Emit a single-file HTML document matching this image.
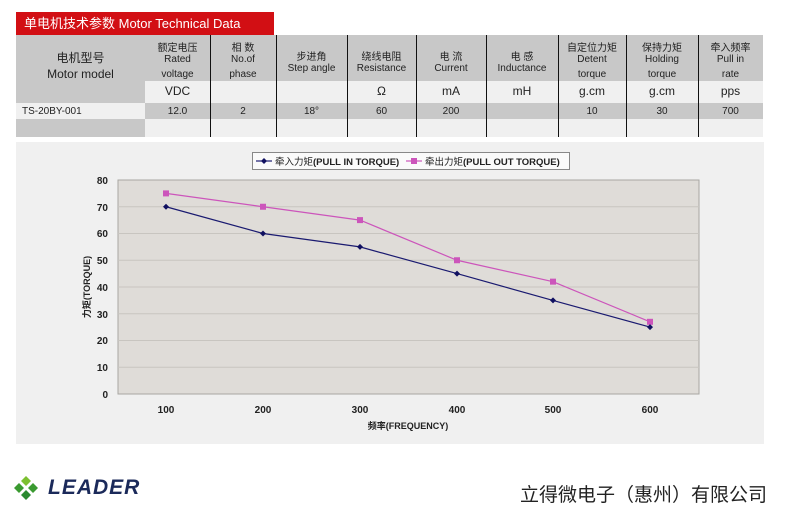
<!DOCTYPE html>
<html><head><meta charset="utf-8"><style>
body{margin:0;width:800px;height:527px;background:#fff;position:relative;overflow:hidden;font-family:"Liberation Sans","Noto Sans CJK SC",sans-serif;}
.abs{position:absolute}
.c{position:absolute;text-align:center;color:#222;font-size:10px;line-height:11px}
</style></head><body>
<div class="abs" style="left:16px;top:12px;width:258px;height:23px;background:#d20f14;color:#fff;font-size:13px;line-height:24px;padding-left:8px;box-sizing:border-box">单电机技术参数 Motor Technical Data</div>
<svg class="abs" style="left:0;top:0" width="800" height="140">
<rect x="16" y="35" width="747" height="46" fill="#c8c8c8"/>
<rect x="16" y="81" width="129" height="22" fill="#c8c8c8"/>
<rect x="145" y="81" width="618" height="22" fill="#f0f0f0"/>
<rect x="16" y="103" width="129" height="16" fill="#f0f0f0"/>
<rect x="145" y="103" width="618" height="16" fill="#c8c8c8"/>
<rect x="16" y="119" width="129" height="18" fill="#c8c8c8"/>
<rect x="145" y="119" width="618" height="18" fill="#f0f0f0"/>
<g stroke="#111" stroke-width="1">
<line x1="210.5" y1="35" x2="210.5" y2="137"/><line x1="276.5" y1="35" x2="276.5" y2="137"/>
<line x1="347.5" y1="35" x2="347.5" y2="137"/><line x1="416.5" y1="35" x2="416.5" y2="137"/>
<line x1="486.5" y1="35" x2="486.5" y2="137"/><line x1="558.5" y1="35" x2="558.5" y2="137"/>
<line x1="626.5" y1="35" x2="626.5" y2="137"/><line x1="698.5" y1="35" x2="698.5" y2="137"/>
</g>
</svg>
<div class="c" style="left:16px;width:129px;top:50px;font-size:12px;line-height:16px">电机型号<br>Motor model</div>
<div class="c" style="left:145px;width:65px;top:43px">额定电压<br>Rated<br><span style="line-height:20px">voltage</span></div>
<div class="c" style="left:210px;width:66px;top:43px">相 数<br>No.of<br><span style="line-height:20px">phase</span></div>
<div class="c" style="left:276px;width:71px;top:52px">步进角<br>Step angle</div>
<div class="c" style="left:347px;width:69px;top:52px">绕线电阻<br>Resistance</div>
<div class="c" style="left:416px;width:70px;top:52px">电 流<br>Current</div>
<div class="c" style="left:486px;width:72px;top:52px">电 感<br>Inductance</div>
<div class="c" style="left:558px;width:68px;top:43px">自定位力矩<br>Detent<br><span style="line-height:20px">torque</span></div>
<div class="c" style="left:626px;width:72px;top:43px">保持力矩<br>Holding<br><span style="line-height:20px">torque</span></div>
<div class="c" style="left:698px;width:65px;top:43px">牵入频率<br>Pull in<br><span style="line-height:20px">rate</span></div>
<div class="c" style="left:145px;width:65px;top:86px;font-size:12px">VDC</div>
<div class="c" style="left:347px;width:69px;top:86px;font-size:12px">Ω</div>
<div class="c" style="left:416px;width:70px;top:86px;font-size:12px">mA</div>
<div class="c" style="left:486px;width:72px;top:86px;font-size:12px">mH</div>
<div class="c" style="left:558px;width:68px;top:86px;font-size:12px">g.cm</div>
<div class="c" style="left:626px;width:72px;top:86px;font-size:12px">g.cm</div>
<div class="c" style="left:698px;width:65px;top:86px;font-size:12px">pps</div>
<div class="c" style="left:22px;top:106px;text-align:left">TS-20BY-001</div>
<div class="c" style="left:145px;width:65px;top:106px">12.0</div>
<div class="c" style="left:210px;width:66px;top:106px">2</div>
<div class="c" style="left:276px;width:71px;top:106px">18°</div>
<div class="c" style="left:347px;width:69px;top:106px">60</div>
<div class="c" style="left:416px;width:70px;top:106px">200</div>
<div class="c" style="left:558px;width:68px;top:106px">10</div>
<div class="c" style="left:626px;width:72px;top:106px">30</div>
<div class="c" style="left:698px;width:65px;top:106px">700</div>
<svg class="abs" style="left:0;top:140px" width="800" height="310" font-family="Liberation Sans,Noto Sans CJK SC,sans-serif">
<rect x="16" y="2" width="748" height="302" fill="#f0f0f0"/>
<rect x="118" y="40" width="581" height="214" fill="#dfdcd8" stroke="#a8a6a2"/>
<g stroke="#c8c5c0"><line x1="118" y1="66.75" x2="699" y2="66.75"/><line x1="118" y1="93.5" x2="699" y2="93.5"/><line x1="118" y1="120.25" x2="699" y2="120.25"/><line x1="118" y1="147" x2="699" y2="147"/><line x1="118" y1="173.75" x2="699" y2="173.75"/><line x1="118" y1="200.5" x2="699" y2="200.5"/><line x1="118" y1="227.25" x2="699" y2="227.25"/></g>
<g font-size="10" font-weight="bold" fill="#222" text-anchor="end">
<text x="108" y="44">80</text><text x="108" y="71">70</text><text x="108" y="97">60</text><text x="108" y="124">50</text><text x="108" y="151">40</text><text x="108" y="178">30</text><text x="108" y="204">20</text><text x="108" y="231">10</text><text x="108" y="258">0</text></g>
<g font-size="10" font-weight="bold" fill="#222" text-anchor="middle">
<text x="166" y="273">100</text><text x="263" y="273">200</text><text x="360" y="273">300</text><text x="457" y="273">400</text><text x="553" y="273">500</text><text x="650" y="273">600</text>
<text x="408" y="289" font-size="9">频率(FREQUENCY)</text>
<text transform="translate(90,147) rotate(-90)" font-size="9">力矩(TORQUE)</text></g>
<polyline fill="none" stroke="#cc55bb" stroke-width="1.2" points="166,53.4 263,66.75 360,80.1 457,120.25 553,141.65 650,181.8"/>
<polyline fill="none" stroke="#1a1a70" stroke-width="1.2" points="166,66.75 263,93.5 360,106.9 457,133.6 553,160.4 650,187.1"/>
<g fill="#cc55bb"><rect x="163" y="50.4" width="6" height="6"/><rect x="260" y="63.75" width="6" height="6"/><rect x="357" y="77.1" width="6" height="6"/><rect x="454" y="117.25" width="6" height="6"/><rect x="550" y="138.65" width="6" height="6"/><rect x="647" y="178.8" width="6" height="6"/></g>
<g fill="#101060"><path d="M166 63.75l3 3-3 3-3-3z"/><path d="M263 90.5l3 3-3 3-3-3z"/><path d="M360 103.9l3 3-3 3-3-3z"/><path d="M457 130.6l3 3-3 3-3-3z"/><path d="M553 157.4l3 3-3 3-3-3z"/><path d="M650 184.1l3 3-3 3-3-3z"/></g>
<rect x="252.5" y="12.5" width="317" height="17" fill="#fafafa" stroke="#888"/>
<line x1="256" y1="21" x2="272" y2="21" stroke="#1a1a70" stroke-width="1.2"/><path d="M264 18l3 3-3 3-3-3z" fill="#101060"/>
<text x="275" y="25" font-size="9.5" fill="#222">牵入力矩<tspan font-weight="bold">(PULL IN TORQUE)</tspan></text>
<line x1="406" y1="21" x2="422" y2="21" stroke="#cc55bb" stroke-width="1.2"/><rect x="411" y="18" width="6" height="6" fill="#cc55bb"/>
<text x="425" y="25" font-size="9.5" fill="#222">牵出力矩<tspan font-weight="bold">(PULL OUT TORQUE)</tspan></text>
</svg>
<svg class="abs" style="left:10px;top:474px" width="32" height="32">
<path d="M16 2l5 5-5 5-5-5z" fill="#7cc030"/><path d="M9 9l5 5-5 5-5-5z" fill="#3a9a30"/><path d="M23 9l5 5-5 5-5-5z" fill="#3a9a30"/><path d="M16 16l5 5-5 5-5-5z" fill="#2a8a30"/>
</svg>
<div class="abs" style="left:48px;top:476px;font-size:21px;font-weight:bold;font-style:italic;color:#1b2a5a;letter-spacing:1px">LEADER</div>
<div class="abs" style="left:520px;top:480px;font-size:19px;color:#222;font-family:'Noto Sans CJK SC',sans-serif;white-space:nowrap">立得微电子（惠州）有限公司</div>
</body></html>
